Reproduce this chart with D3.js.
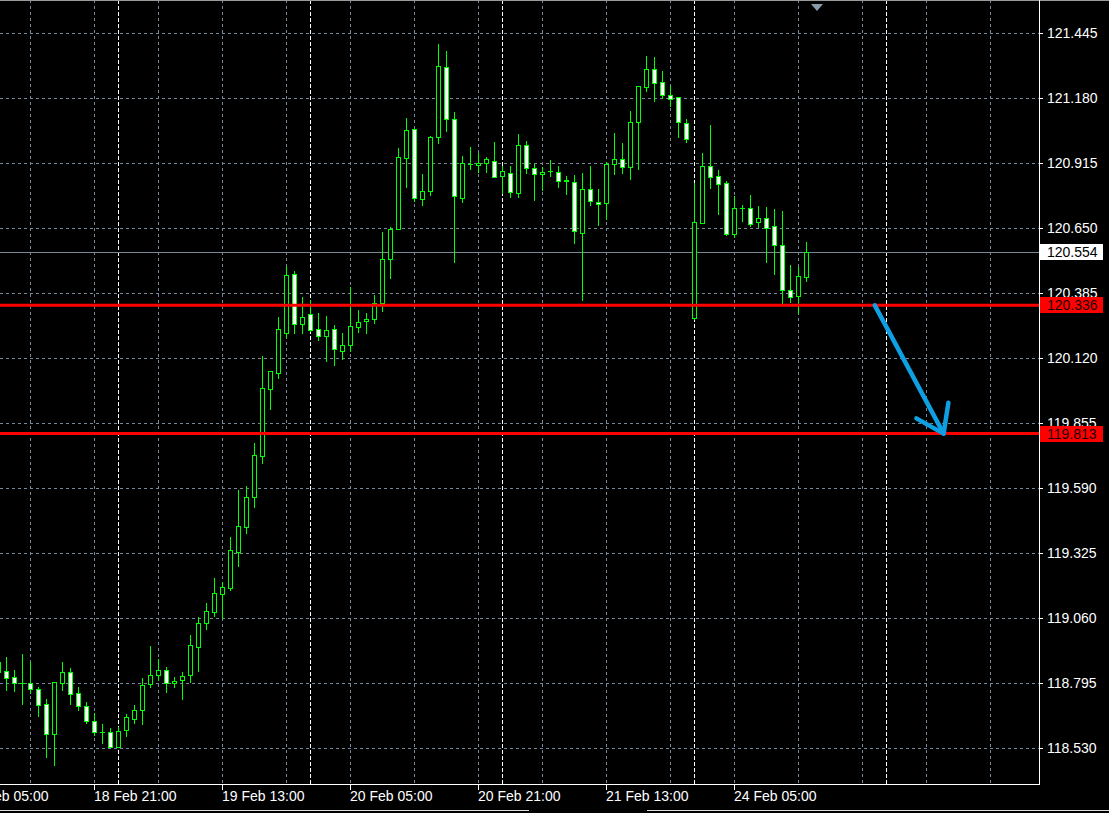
<!DOCTYPE html>
<html><head><meta charset="utf-8">
<script src="https://cdn.jsdelivr.net/npm/d3@7"></script>
<style>html,body{margin:0;padding:0;background:#000;overflow:hidden}</style>
</head><body><svg id="c" width="1109" height="813"></svg>
<script>
// ---- DATA (hourly bars, first bar = 18 Feb 09:00) ----
const firstBarTime = "2020-02-18T09:00:00Z";
const openP  = [118.840,118.845,118.819,118.795,118.795,118.770,118.709,118.587,118.797,118.840,118.754,118.701,118.640,118.595,118.595,118.537,118.603,118.651,118.685,118.791,118.828,118.849,118.795,118.807,118.828,118.944,119.040,119.087,119.158,119.185,119.331,119.433,119.556,119.723,119.996,120.061,120.224,120.464,120.259,120.299,120.238,120.210,120.238,120.151,120.173,120.246,120.271,120.279,120.344,120.526,120.646,120.935,121.054,120.768,120.803,121.021,121.306,121.094,120.775,120.912,120.909,120.918,120.923,120.864,120.874,120.793,120.988,120.895,120.870,120.884,120.881,120.846,120.838,120.632,120.809,120.756,120.752,120.911,120.931,120.901,121.085,121.227,121.298,121.245,121.192,121.184,121.078,120.286,120.673,120.903,120.863,120.835,120.628,120.732,120.732,120.674,120.691,120.658,120.581,120.397,120.373,120.450];
const highP  = [118.890,118.903,118.849,118.914,118.883,118.781,118.730,118.801,118.882,118.857,118.779,118.719,118.673,118.629,118.613,118.616,118.670,118.706,118.817,118.947,118.894,118.863,118.819,118.841,118.992,119.064,119.122,119.224,119.209,119.391,119.583,119.599,119.775,120.129,120.067,120.287,120.496,120.476,120.369,120.358,120.305,120.293,120.256,120.222,120.409,120.317,120.303,120.378,120.635,120.654,120.977,121.100,121.054,120.871,121.026,121.401,121.373,121.124,120.945,120.980,120.958,120.942,121.002,120.904,120.904,121.034,121.005,120.912,120.901,120.928,120.904,120.863,120.867,120.874,120.904,120.810,120.922,121.037,120.997,121.128,121.230,121.352,121.348,121.291,121.230,121.187,121.096,120.833,120.956,121.071,120.888,120.842,120.782,120.745,120.786,120.741,120.736,120.729,120.721,120.500,120.494,120.594];
const lowP   = [118.825,118.768,118.765,118.711,118.757,118.662,118.496,118.463,118.768,118.711,118.686,118.634,118.585,118.553,118.537,118.537,118.580,118.634,118.630,118.781,118.808,118.761,118.781,118.732,118.801,118.846,119.015,119.069,119.060,119.177,119.274,119.409,119.515,119.694,119.915,120.040,120.208,120.224,120.224,120.230,120.195,120.110,120.094,120.116,120.151,120.228,120.224,120.263,120.314,120.449,120.646,120.817,120.762,120.746,120.787,120.999,121.048,120.514,120.758,120.892,120.880,120.880,120.860,120.795,120.779,120.779,120.874,120.765,120.806,120.864,120.820,120.790,120.591,120.358,120.746,120.663,120.688,120.871,120.877,120.851,120.893,121.211,121.169,121.182,121.149,121.023,121.003,120.279,120.673,120.815,120.708,120.623,120.613,120.681,120.659,120.657,120.514,120.464,120.341,120.351,120.303,120.436];
const closeP = [118.882,118.818,118.795,118.795,118.770,118.708,118.587,118.799,118.840,118.750,118.704,118.640,118.595,118.595,118.537,118.599,118.656,118.685,118.787,118.828,118.849,118.797,118.803,118.823,118.950,119.040,119.088,119.162,119.188,119.337,119.435,119.553,119.724,119.999,120.067,120.238,120.460,120.259,120.287,120.234,120.210,120.234,120.157,120.173,120.250,120.267,120.279,120.344,120.524,120.646,120.940,121.050,120.772,120.801,121.021,121.310,121.097,120.780,120.915,120.912,120.918,120.931,120.860,120.884,120.799,120.988,120.895,120.870,120.878,120.884,120.844,120.842,120.637,120.809,120.760,120.748,120.911,120.931,120.901,121.082,121.229,121.298,121.244,121.195,121.178,121.082,121.015,120.674,120.903,120.860,120.832,120.628,120.733,120.732,120.669,120.691,120.651,120.581,120.397,120.371,120.454,120.554];
const priceTickLabels = ["121.445","121.180","120.915","120.650","120.385","120.120","119.855","119.590","119.325","119.060","118.795","118.530"];
const timeTickLabels = ["18 Feb 05:00","18 Feb 21:00","19 Feb 13:00","20 Feb 05:00","20 Feb 21:00","21 Feb 13:00","24 Feb 05:00"];
const levelPrices = [120.336, 119.813];
const bidPrice = 120.554;
// arrow annotation: [barIndex, price]
const arrowShaft = [[108.6,120.336],[117.2,119.813]];
const arrowHeadL = [113.8,119.875];
const arrowHeadR = [117.8,119.939];

// ---- LAYOUT ----
const W=1109, H=813, plotR=1039, plotB=784;
const svg=d3.select("#c");
svg.append("rect").attr("width",W).attr("height",H).attr("fill","#000");

const totalBars = 135;
// generate bar times (hourly, skipping weekends)
const barTimes=[]; {let t=new Date(firstBarTime); while(barTimes.length<totalBars){const d=t.getUTCDay(); if(d!==0&&d!==6) barTimes.push(new Date(t)); t=new Date(t.getTime()+3600e3);} }
const months=["Jan","Feb","Mar","Apr","May","Jun","Jul","Aug","Sep","Oct","Nov","Dec"];
const pad=n=>String(n).padStart(2,"0");
const fmt=t=>`${t.getUTCDate()} ${months[t.getUTCMonth()]} ${pad(t.getUTCHours())}:${pad(t.getUTCMinutes())}`;
// bar index relative: data index 0 is firstBarTime -> position -1
const OFF = -1;
const x=d3.scaleLinear().domain([0,1]).range([6,14]);
const y=d3.scaleLinear().domain([118.3844,121.5808]).range([plotB,0]);
const px=v=>Math.round(x(v));
const py=v=>Math.round(y(v));

// label index lookup (may be before first bar)
function labelIndex(lbl){
  const i=barTimes.findIndex(t=>fmt(t)===lbl);
  if(i>=0) return i+OFF;
  // extrapolate backwards hourly
  let t=new Date(firstBarTime), k=OFF;
  while(k>-40){t=new Date(t.getTime()-3600e3); const d=t.getUTCDay(); if(d===0||d===6) continue; k--; if(fmt(t)===lbl) return k;}
  return null;
}
const tickIdx=timeTickLabels.map(labelIndex);

const g=svg.append("g");
const defs=svg.append("defs");
defs.append("clipPath").attr("id","plot").append("rect").attr("x",0).attr("y",0).attr("width",plotR).attr("height",plotB);
const plot=g.append("g").attr("clip-path","url(#plot)");

const gridColor="#778899";
// horizontal grid
priceTickLabels.forEach(s=>{
  const yy=py(+s)+0.5;
  plot.append("line").attr("x1",0).attr("x2",plotR).attr("y1",yy).attr("y2",yy)
    .attr("stroke",gridColor).attr("stroke-dasharray","3,3");
});
// vertical grid every 8 bars aligned with labels
const lastIdx = barTimes.length-1+OFF;
for(let k=tickIdx[0]; k<=lastIdx; k+=8){
  const xx=px(k)+0.5;
  plot.append("line").attr("x1",xx).attr("x2",xx).attr("y1",0).attr("y2",plotB)
    .attr("stroke",gridColor).attr("stroke-dasharray","3,3");
}
// day separators
barTimes.forEach((t,i)=>{
  if(t.getUTCHours()===0){
    const xx=px(i+OFF)+0.5;
    plot.append("line").attr("x1",xx).attr("x2",xx).attr("y1",0).attr("y2",plotB)
      .attr("stroke","#ffffff").attr("stroke-dasharray","4,2");
  }
});
// bid line
plot.append("line").attr("x1",0).attr("x2",plotR).attr("y1",py(bidPrice)+0.5).attr("y2",py(bidPrice)+0.5)
  .attr("stroke",gridColor).attr("stroke-width",1);

// candles
const green="#00ff00";
const bars=openP.map((o,i)=>({i:i+OFF,o,h:highP[i],l:lowP[i],c:closeP[i]}));
const cg=plot.append("g");
bars.forEach(b=>{
  const cx=px(b.i);
  cg.append("line").attr("x1",cx+0.5).attr("x2",cx+0.5).attr("y1",py(b.h)).attr("y2",py(b.l)+1)
    .attr("stroke",green).attr("stroke-width",1);
  const yo=py(b.o), yc=py(b.c);
  const top=Math.min(yo,yc), bot=Math.max(yo,yc);
  if(bot-top<1){
    cg.append("line").attr("x1",cx-2).attr("x2",cx+3).attr("y1",top+0.5).attr("y2",top+0.5)
      .attr("stroke",green);
  } else {
    cg.append("rect").attr("x",cx-1.5).attr("y",top+0.5).attr("width",4).attr("height",bot-top)
      .attr("fill", b.c>=b.o ? "#000" : "#fff").attr("stroke",green).attr("stroke-width",1);
  }
});

// level lines
levelPrices.forEach(p=>{
  plot.append("line").attr("x1",0).attr("x2",plotR).attr("y1",y(p)).attr("y2",y(p))
    .attr("stroke","#ff0000").attr("stroke-width",3);
});

// arrow
const blue="#0ea0e2";
const lineGen=d3.line().x(d=>x(d[0])).y(d=>y(d[1]));
plot.append("path").attr("d",lineGen(arrowShaft)).attr("stroke",blue).attr("stroke-width",4.5)
  .attr("stroke-linecap","round").attr("fill","none");
plot.append("path").attr("d",lineGen([arrowHeadL,arrowShaft[1],arrowHeadR])).attr("stroke",blue).attr("stroke-width",4.5)
  .attr("stroke-linecap","round").attr("stroke-linejoin","round").attr("fill","none");

// frame
g.append("line").attr("x1",0).attr("x2",W).attr("y1",0.5).attr("y2",0.5).attr("stroke","#9a9a9a");
g.append("line").attr("x1",plotR+0.5).attr("x2",plotR+0.5).attr("y1",0).attr("y2",plotB+1).attr("stroke","#fff");
g.append("line").attr("x1",0).attr("x2",plotR+1).attr("y1",plotB+0.5).attr("y2",plotB+0.5).attr("stroke","#fff");
// chart shift marker
g.append("path").attr("d","M811,4 L823,4 L817,11 Z").attr("fill","#8a9aaa");

const font="'Liberation Sans', Arial, sans-serif";
// price axis
priceTickLabels.forEach(s=>{
  const yy=py(+s);
  g.append("line").attr("x1",plotR+1).attr("x2",plotR+4).attr("y1",yy+0.5).attr("y2",yy+0.5).attr("stroke","#fff");
  g.append("text").attr("x",1047).attr("y",yy+5).attr("fill","#fff").attr("font-family",font).attr("font-size",14).text(s);
});
function priceBox(p,bg,fg){
  const yy=py(p);
  g.append("rect").attr("x",1040).attr("y",yy-8).attr("width",63).attr("height",16).attr("fill",bg);
  g.append("text").attr("x",1047).attr("y",yy+5).attr("fill",fg).attr("font-family",font).attr("font-size",14).text(p.toFixed(3));
}
priceBox(bidPrice,"#fff","#000");
levelPrices.forEach(p=>priceBox(p,"#ff0000","#1a0000"));

// time axis
timeTickLabels.forEach((s,j)=>{
  const xx=px(tickIdx[j]);
  g.append("line").attr("x1",xx+0.5).attr("x2",xx+0.5).attr("y1",plotB).attr("y2",plotB+6).attr("stroke","#fff");
  g.append("text").attr("x",xx).attr("y",801).attr("fill","#fff").attr("font-family",font).attr("font-size",14).text(s);
});
// bottom strip line
g.append("line").attr("x1",0).attr("x2",529).attr("y1",810.5).attr("y2",810.5).attr("stroke","#ddd");
g.append("line").attr("x1",647).attr("x2",W).attr("y1",810.5).attr("y2",810.5).attr("stroke","#ddd");
</script></body></html>
